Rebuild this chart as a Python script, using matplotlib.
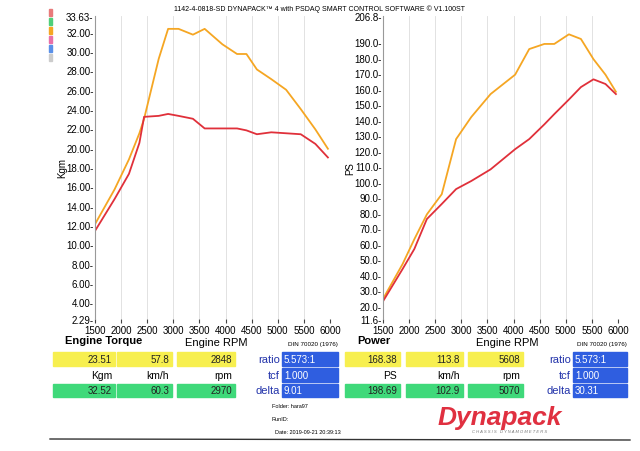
import matplotlib
matplotlib.use("Agg")
import matplotlib.pyplot as plt
from matplotlib.patches import Rectangle

# torque curves (Kgm)
tq_rpm = [1500, 1875, 2150, 2350, 2440, 2720, 2900, 3100, 3375, 3600, 3940, 4220, 4400, 4600, 4875, 5160, 5440, 5720, 5960]
tq_orange = [12.1, 15.7, 18.8, 21.5, 23.0, 29.2, 32.3, 32.3, 31.7, 32.3, 30.7, 29.7, 29.7, 28.1, 27.1, 26.0, 24.0, 21.9, 19.9]
tq_red = [11.4, 14.7, 17.3, 20.5, 23.2, 23.3, 23.5, 23.3, 23.0, 22.0, 22.0, 22.0, 21.8, 21.4, 21.6, 21.5, 21.4, 20.4, 19.0]

# power curves (PS)
pw_rpm = [1500, 1875, 2100, 2340, 2625, 2900, 3190, 3560, 4030, 4300, 4590, 4780, 5060, 5290, 5530, 5760, 5960]
pw_orange = [24.5, 47, 63, 79, 92, 127.5, 141.7, 156.5, 169, 185.5, 188.8, 188.8, 195, 192, 179, 169, 158]
pw_red = [23, 43.8, 56.7, 76, 85.7, 95.3, 100.5, 108, 121, 127.5, 137, 143.6, 153, 161, 166, 163, 156.5]

x_ticks = [1500, 2000, 2500, 3000, 3500, 4000, 4500, 5000, 5500, 6000]
tq_ticks = [2.29, 4, 6, 8, 10, 12, 14, 16, 18, 20, 22, 24, 26, 28, 30, 32, 33.63]
pw_ticks = [11.6, 20, 30, 40, 50, 60, 70, 80, 90, 100, 110, 120, 130, 140, 150, 160, 170, 180, 190, 206.8]

ORANGE = "#f5a623"
RED = "#e0303a"
YELLOW = "#f7ef4f"
GREEN = "#3fd97a"
BLUE = "#2f5ee0"

plt.rcParams["font.family"] = ["Liberation Sans", "DejaVu Sans"]

fig = plt.figure(figsize=(6.4, 4.52), dpi=100)
W, H = 640, 452


def frac(x0, y0, x1, y1):
    return [x0 / W, 1 - y1 / H, (x1 - x0) / W, (y1 - y0) / H]


def style(ax, yticks, ylabel, fmt):
    ax.set_xlim(1500, 6000)
    ax.set_ylim(yticks[0], yticks[-1])
    ax.set_xticks(x_ticks)
    ax.set_yticks(yticks)
    ax.set_yticklabels([fmt(v) for v in yticks])
    ax.tick_params(axis="y", labelsize=7, length=0, pad=1)
    ax.tick_params(axis="x", labelsize=7, length=3, color="#444444", pad=1)
    for s in ["top", "right", "bottom"]:
        ax.spines[s].set_visible(False)
    ax.spines["left"].set_color("#999999")
    ax.grid(axis="x", color="#dddddd", lw=0.6)
    ax.set_ylabel(ylabel, fontsize=7, labelpad=-1)


ax1 = fig.add_axes(frac(95, 17, 330, 320))
ax1.plot(tq_rpm, tq_orange, color=ORANGE, lw=1.3)
ax1.plot(tq_rpm, tq_red, color=RED, lw=1.3)
style(ax1, tq_ticks, "Kgm", lambda v: f"{v:.2f}-")

ax2 = fig.add_axes(frac(383, 17, 618, 320))
ax2.plot(pw_rpm, pw_orange, color=ORANGE, lw=1.3)
ax2.plot(pw_rpm, pw_red, color=RED, lw=1.3)
style(ax2, pw_ticks, "PS", lambda v: f"{v:.1f}-")

fig.text(0.5, 0.988, "1142-4-0818-SD DYNAPACK\u2122 4 with PSDAQ SMART CONTROL SOFTWARE \u00a9 V1.100ST",
         ha="center", va="top", fontsize=5)

# overlay in pixel coordinates for the readout panel
ov = fig.add_axes([0, 0, 1, 1], facecolor="none")
ov.set_xlim(0, W)
ov.set_ylim(H, 0)
ov.axis("off")

for i, c in enumerate(["#e87a7a", "#4fcf7a", ORANGE, "#e870a8", "#5a90e8", "#cccccc"]):
    ov.add_patch(Rectangle((49, 10 + i * 9), 3, 7, color=c))


def box(x0, x1, y0, y1, color, text):
    ov.add_patch(Rectangle((x0, y0), x1 - x0, y1 - y0, color=color))
    if color == BLUE:
        ov.text(x0 + 2, (y0 + y1) / 2, text, fontsize=7, ha="left", va="center", color="white")
    else:
        ov.text(x1 - 3, (y0 + y1) / 2, text, fontsize=7, ha="right", va="center", color="#222222")


def panel(x, title, vals_top, units, vals_bot, blue_vals):
    ov.text(x[0][0] + 12, 341, title, fontsize=8, weight="bold", va="center")
    ov.text(x[2][0] + 8, 343, "Engine RPM", fontsize=8, va="center")
    ov.text(x[3][1], 345, "DIN 70020 (1976)", fontsize=4.5, ha="right", va="center")
    for (x0, x1), v, u, b in zip(x[:3], vals_top, units, vals_bot):
        box(x0, x1, 353, 367, YELLOW, v)
        ov.text(x1 - 3, 376, u, fontsize=7.5, ha="right", va="center")
        box(x0, x1, 385, 398, GREEN, b)
    bx0, bx1 = x[3]
    for (lab, v), (y0, y1) in zip(zip(["ratio", "tcf", "delta"], blue_vals),
                                  [(353, 367), (369, 383), (385, 398)]):
        box(bx0, bx1, y0, y1, BLUE, v)
        ov.text(bx0 - 2, (y0 + y1) / 2, lab, fontsize=8, ha="right", va="center", color="#2233aa")


panel([(53, 115), (117, 172), (177, 235), (282, 338)], "Engine Torque",
      ["23.51", "57.8", "2848"], ["Kgm", "km/h", "rpm"], ["32.52", "60.3", "2970"],
      ["5.573:1", "1.000", "9.01"])
panel([(345, 400), (406, 463), (468, 523), (573, 627)], "Power",
      ["168.38", "113.8", "5608"], ["PS", "km/h", "rpm"], ["198.69", "102.9", "5070"],
      ["5.573:1", "1.000", "30.31"])

ov.text(272, 408, "Folder: hara97", fontsize=4)
ov.text(272, 421, "RunID:", fontsize=4)
ov.text(275, 434, "Date: 2019-09-21 20:39:13", fontsize=4)
ov.text(500, 418, "Dynapack", fontsize=19, weight="bold", style="italic", color="#e03040",
        ha="center", va="center")
ov.text(510, 432, "C H A S S I S   D Y N A M O M E T E R S", fontsize=3, style="italic",
        color="#777777", ha="center", va="center")
ov.plot([50, 630], [440, 441], color="#333333", lw=1)

fig.savefig("out.png", dpi=100)
